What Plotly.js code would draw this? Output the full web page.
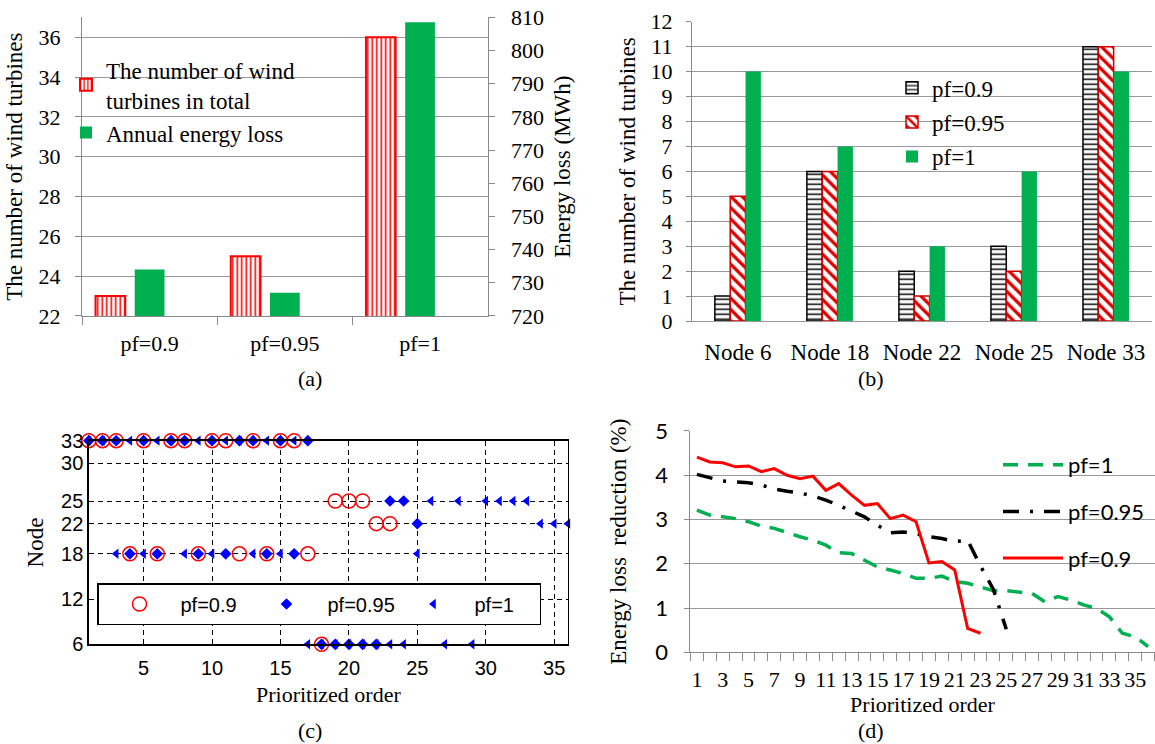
<!DOCTYPE html>
<html><head><meta charset="utf-8">
<script src="https://cdn.plot.ly/plotly-3.0.1.min.js"></script>
<style>html,body{margin:0;padding:0;background:#fff}#chart{width:1155px;height:744px}</style>
</head><body><div id="chart"></div>
<script>
// ---------- Panel (a) ----------
const pfCats = ['pf=0.9', 'pf=0.95', 'pf=1'];
const turbinesTotal = [23, 25, 36];
const annualLoss = [734, 727, 808.5];

// ---------- Panel (b) ----------
const nodeCats = ['Node 6', 'Node 18', 'Node 22', 'Node 25', 'Node 33'];
const turbPf09 = [1, 6, 2, 3, 11];
const turbPf095 = [5, 6, 1, 2, 11];
const turbPf1 = [10, 7, 3, 6, 10];

// ---------- Panel (c) ----------
const orderPf09 = [1,2,3,4,5,6,7,8,9,10,11,12,13,14,15,16,17,18,19,20,21,22,23];
const nodePf09 = [33,33,33,18,33,18,33,33,18,33,33,18,33,18,33,33,18,6,25,25,25,22,22];
const orderPf095 = [1,2,3,4,5,6,7,8,9,10,11,12,13,14,15,16,17,18,19,20,21,22,23,24,25];
const nodePf095 = [33,33,33,18,33,18,33,33,18,33,18,33,33,18,33,18,33,6,6,6,6,6,25,25,22];
const orderPf1 = [1,2,3,4,5,6,7,8,9,10,11,12,13,14,15,16,17,18,19,20,21,22,23,24,25,26,27,28,29,30,31,32,33,34,35,36];
const nodePf1 = [33,33,18,33,18,33,33,18,33,18,33,33,18,33,18,33,6,6,6,6,6,6,6,6,18,25,6,25,6,25,25,25,25,22,22,22];
const nodeTicks = [6, 12, 18, 22, 25, 30, 33];

// ---------- Panel (d) ----------
const redPf09 = [4.41,4.30,4.28,4.19,4.21,4.08,4.15,4.00,3.92,3.98,3.66,3.81,3.55,3.32,3.36,3.02,3.10,2.95,2.02,2.05,1.86,0.54,0.43];
const blackPf095 = [4.02,3.95,3.87,3.85,3.83,3.78,3.69,3.64,3.60,3.53,3.44,3.32,3.20,3.06,2.87,2.70,2.72,2.68,2.61,2.57,2.50,2.53,1.95,1.42,0.52];
const greenPf1 = [3.21,3.10,3.06,3.02,2.95,2.85,2.80,2.70,2.61,2.53,2.42,2.25,2.23,2.08,1.93,1.86,1.78,1.67,1.67,1.72,1.60,1.56,1.48,1.39,1.39,1.35,1.33,1.14,1.26,1.18,1.07,0.99,0.80,0.43,0.35,0.13];
const oddTicks = [1,3,5,7,9,11,13,15,17,19,21,23,25,27,29,31,33,35];

const serif = 'Liberation Serif, Times New Roman, serif';
const sans = 'Liberation Sans, Arial, sans-serif';
const calib = 'Lato, Open Sans, sans-serif';
const grey = '#999999';
const axGrey = '#8a8a8a';
const green = '#00b050';

const traces = [
  // (a)
  {type:'bar', x:pfCats, y:turbinesTotal, xaxis:'x', yaxis:'y', name:'The number of wind<br>turbines in total',
   width:0.22, offset:-0.4, legend:'legend',
   marker:{color:'#ffffff', line:{color:'#ff0000', width:2},
     pattern:{shape:'|', fgcolor:'#ff0000', bgcolor:'#ffffff', size:4.5, solidity:0.35}}},
  {type:'bar', x:pfCats, y:annualLoss, xaxis:'x', yaxis:'y2', name:'Annual energy loss',
   width:0.22, offset:-0.11, legend:'legend', marker:{color:green}},
  // (b)
  {type:'bar', x:nodeCats, y:turbPf09, xaxis:'x3', yaxis:'y3', name:'pf=0.9', legend:'legend2', legendgroup:'b1',
   marker:{color:'#ffffff', line:{color:'#000000', width:1.5},
     pattern:{shape:'-', fgcolor:'#000000', bgcolor:'#ffffff', size:5, solidity:0.3}}},
  {type:'bar', x:nodeCats, y:turbPf095, xaxis:'x3', yaxis:'y3', name:'pf=0.95', legend:'legend2', legendgroup:'b2',
   marker:{color:'#ffffff', line:{color:'#d00000', width:1.5},
     pattern:{shape:'\\', fgcolor:'#e00000', bgcolor:'#ffffff', size:8, solidity:0.4}}},
  {type:'bar', x:nodeCats, y:turbPf1, xaxis:'x3', yaxis:'y3', name:'pf=1', legend:'legend2', legendgroup:'b3',
   marker:{color:green}},
  // (c) drawn: triangles, diamonds, circles
  {type:'scatter', mode:'markers', x:orderPf1, y:nodePf1, xaxis:'x4', yaxis:'y4', name:'pf=1', legend:'legend3', legendrank:3,
   cliponaxis:false, marker:{symbol:'triangle-left', size:9, color:'#0000ff'}},
  {type:'scatter', mode:'markers', x:orderPf095, y:nodePf095, xaxis:'x4', yaxis:'y4', name:'pf=0.95', legend:'legend3', legendrank:2,
   cliponaxis:false, marker:{symbol:'diamond', size:9, color:'#0000ff'}},
  {type:'scatter', mode:'markers', x:orderPf09, y:nodePf09, xaxis:'x4', yaxis:'y4', name:'pf=0.9', legend:'legend3', legendrank:1,
   cliponaxis:false, marker:{symbol:'circle-open', size:14, color:'#ff0000', line:{width:1.5}}},
  // (d)
  {type:'scatter', mode:'lines', x:orderPf1, y:greenPf1, xaxis:'x5', yaxis:'y5', name:'pf=1', legend:'legend4', legendgroup:'g1',
   line:{color:green, width:3.5, dash:'15px,10px'}},
  {type:'scatter', mode:'lines', x:orderPf095, y:blackPf095, xaxis:'x5', yaxis:'y5', name:'pf=0.95', legend:'legend4', legendgroup:'g2',
   line:{color:'#000000', width:3.5, dash:'16px,11px,3px,11px'}},
  {type:'scatter', mode:'lines', x:orderPf09, y:redPf09, xaxis:'x5', yaxis:'y5', name:'pf=0.9', legend:'legend4', legendgroup:'g3',
   line:{color:'#ff0000', width:3}}
];

const layout = {
  width:1155, height:744, margin:{l:0, r:0, t:0, b:0},
  paper_bgcolor:'#ffffff', plot_bgcolor:'rgba(0,0,0,0)',
  barmode:'group', bargap:0.5, bargroupgap:0,
  font:{family:serif, color:'#000000'},
  // (a)
  xaxis:{domain:[0.0710,0.4222], anchor:'y', type:'category', range:[-0.5,2.5], showgrid:false,
    showline:true, linecolor:axGrey, tickson:'boundaries', ticks:'outside', ticklen:8, tickcolor:axGrey,
    ticklabelstandoff:8, tickfont:{family:serif, size:22}},
  yaxis:{domain:[0.5753,0.9767], anchor:'x', range:[22,37], tick0:22, dtick:2, showgrid:true, gridcolor:grey,
    zeroline:false, showline:true, linecolor:axGrey, ticks:'outside', ticklen:6, tickcolor:axGrey,
    ticklabelstandoff:10, tickfont:{family:serif, size:22},
    title:{text:'The number of wind turbines', font:{family:serif, size:23}, standoff:9}},
  yaxis2:{overlaying:'y', side:'right', anchor:'x', range:[720,810], dtick:10, showgrid:false, zeroline:false,
    showline:true, linecolor:axGrey, ticks:'outside', ticklen:6, tickcolor:axGrey,
    ticklabelstandoff:12, tickfont:{family:serif, size:22},
    title:{text:'Energy loss (MWh)', font:{family:serif, size:23}, standoff:10}},
  // (b)
  xaxis3:{domain:[0.5990,0.9974], anchor:'y3', type:'category', showgrid:false, showline:true, linecolor:grey,
    ticks:'', ticklabelstandoff:10, tickfont:{family:serif, size:23}},
  yaxis3:{domain:[0.5685,0.9708], anchor:'x3', range:[0,12], dtick:1, showgrid:true, gridcolor:grey, zeroline:false,
    showline:true, linecolor:axGrey, ticks:'outside', ticklen:5, tickcolor:axGrey,
    ticklabelstandoff:9, tickfont:{family:serif, size:22},
    title:{text:'The number of wind turbines', font:{family:serif, size:23}, standoff:8}},
  // (c)
  xaxis4:{domain:[0.0769,0.4917], anchor:'y4', range:[1,36], tick0:0, dtick:5, showgrid:true, gridcolor:'#000000',
    griddash:'5px,4px', gridwidth:1, zeroline:false, showline:true, mirror:true, linecolor:'#000000', linewidth:1.5,
    ticks:'inside', ticklen:4, tickcolor:'#000000', ticklabelstandoff:5, tickfont:{family:sans, size:20},
    title:{text:'Prioritized order', font:{family:serif, size:22}, standoff:9}},
  yaxis4:{domain:[0.1340,0.4077], anchor:'x4', range:[6,33], tickvals:nodeTicks, showgrid:true, gridcolor:'#000000',
    griddash:'5px,4px', gridwidth:1, zeroline:false, showline:true, mirror:true, linecolor:'#000000', linewidth:1.5,
    ticks:'inside', ticklen:4, tickcolor:'#000000', tickfont:{family:sans, size:20},
    title:{text:'Node', font:{family:serif, size:23}, standoff:11}},
  // (d)
  xaxis5:{domain:[0.5978,0.9996], anchor:'y5', range:[0.5,36.5], tickvals:oddTicks, showgrid:false, zeroline:false,
    showline:true, linecolor:axGrey, ticks:'', tickfont:{family:serif, size:22},
    minor:{ticks:'outside', tick0:0.5, dtick:1, ticklen:8, tickcolor:axGrey, showgrid:false},
    ticklabelstandoff:7,
    title:{text:'Prioritized order', font:{family:serif, size:22}, standoff:0}},
  yaxis5:{domain:[0.1233,0.4207], anchor:'x5', range:[0,5], dtick:1, showgrid:true, gridcolor:grey, zeroline:false,
    showline:true, linecolor:axGrey, ticks:'outside', ticklen:5, tickcolor:axGrey,
    ticklabelstandoff:12, tickfont:{family:calib, size:22},
    title:{text:'Energy loss\u00a0 reduction (%)', font:{family:serif, size:23}, standoff:22}},
  legend:{x:66/1155, y:0.935, xanchor:'left', yanchor:'top', bgcolor:'rgba(0,0,0,0)', font:{family:serif, size:23},
    itemwidth:30},
  legend2:{x:892/1155, y:0.911, xanchor:'left', yanchor:'top', bgcolor:'rgba(0,0,0,0)', font:{family:serif, size:23},
    itemwidth:30, traceorder:'grouped', tracegroupgap:1.5},
  legend3:{orientation:'h', x:97/1155, y:1-583/744, xanchor:'left', yanchor:'top', bgcolor:'#ffffff',
    bordercolor:'#000000', borderwidth:1.5, font:{family:sans, size:20},
    itemwidth:72, entrywidth:60, entrywidthmode:'pixels'},
  legend4:{x:998/1155, y:0.4032, xanchor:'left', yanchor:'top', bgcolor:'rgba(0,0,0,0)', font:{family:calib, size:22},
    itemwidth:60, traceorder:'grouped', tracegroupgap:15},
  annotations:[
    {text:'(a)', xref:'paper', yref:'paper', x:296/1155, y:1-378/744, yanchor:'middle', showarrow:false, font:{family:serif, size:22}},
    {text:'(b)', xref:'paper', yref:'paper', x:886/1155, y:1-378/744, yanchor:'middle', showarrow:false, font:{family:serif, size:22}},
    {text:'(c)', xref:'paper', yref:'paper', x:296/1155, y:1-730/744, yanchor:'middle', showarrow:false, font:{family:serif, size:22}},
    {text:'(d)', xref:'paper', yref:'paper', x:886/1155, y:1-730/744, yanchor:'middle', showarrow:false, font:{family:serif, size:22}}
  ]
};

Plotly.newPlot('chart', traces, layout, {staticPlot:true, displayModeBar:false});
</script></body></html>
